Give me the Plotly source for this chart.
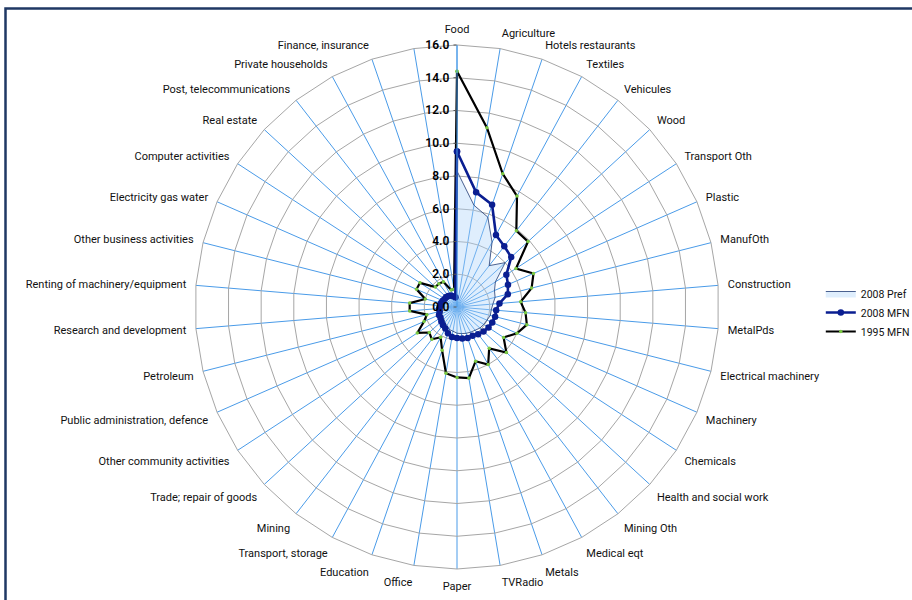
import plotly.graph_objects as go

# Sectors, clockwise from the top (one spoke carries no label)
categories = [
    "Food", "Agriculture", "Hotels restaurants", "Textiles", "Vehicules", "Wood",
    "Transport Oth", "Plastic", "ManufOth", "Construction", "MetalPds",
    "Electrical machinery", "Machinery", "Chemicals", "Health and social work",
    "Mining Oth", "Medical eqt", "Metals", "TVRadio", "Paper", "Office",
    "Education", "Transport, storage", "Mining", "Trade; repair of goods",
    "Other community activities", "Public administration, defence", "Petroleum",
    "Research and development", "Renting of machinery/equipment",
    "Other business activities", "Electricity gas water", "Computer activities",
    "Real estate", "Post, telecommunications", "Private households",
    "Finance, insurance", " ",
]

pref_2008 = [8.3, 6.3, 5.8, 4.5, 3.2, 4.0, 2.8, 2.5, 2.4, 2.2, 2.1, 2.1, 2.0, 1.95,
             1.9, 1.8, 1.75, 1.7, 1.65, 1.6, 1.5, 1.45, 1.3, 1.2, 1.1, 1.1, 1.0,
             0.9, 0.9, 0.85, 0.8, 0.8, 0.75, 0.7, 0.7, 0.6, 0.5, 0.4]

mfn_2008 = [9.5, 7.1, 6.6, 5.0, 4.7, 4.5, 3.6, 3.4, 3.2, 2.6, 2.4, 2.4, 2.35, 2.3,
            2.2, 2.1, 2.0, 2.0, 1.95, 1.9, 1.85, 1.7, 1.5, 1.4, 1.3, 1.2, 1.2,
            1.1, 1.1, 1.0, 1.0, 0.95, 0.9, 0.9, 0.85, 0.8, 0.7, 0.6]

mfn_1995 = [14.4, 11.1, 8.6, 7.7, 5.9, 5.9, 4.3, 5.1, 4.7, 3.9, 4.2, 4.4, 4.0, 3.4,
            4.1, 3.2, 4.0, 3.5, 4.4, 4.3, 4.1, 2.8, 2.1, 2.5, 2.3, 2.9, 2.2, 1.9,
            2.9, 2.9, 2.0, 2.7, 2.7, 1.8, 1.8, 1.75, 1.1, 1.1]

radial_ticks = [0, 2, 4, 6, 8, 10, 12, 14, 16]


def closed(values):
    return list(values) + [values[0]]


theta = closed(categories)

fig = go.Figure()

fig.add_trace(go.Scatterpolar(
    r=closed(pref_2008), theta=theta, name="2008 Pref", mode="lines",
    fill="toself", fillcolor="rgba(170,210,250,0.38)",
    line=dict(color="#1F3A73", width=0.8), legendrank=1,
))

fig.add_trace(go.Scatterpolar(
    r=closed(mfn_1995), theta=theta, name="1995 MFN", mode="lines+markers",
    line=dict(color="#000000", width=2.2),
    marker=dict(color="#7AC943", size=3.5, symbol="circle"), legendrank=3,
))

fig.add_trace(go.Scatterpolar(
    r=closed(mfn_2008), theta=theta, name="2008 MFN", mode="lines+markers",
    line=dict(color="#0A1E91", width=2.6),
    marker=dict(color="#0A1E91", size=6.5, symbol="circle"), legendrank=2,
))

W, H = 912, 600
cx, cy, R = 457, 307, 262

fig.update_layout(
    width=W, height=H,
    margin=dict(l=0, r=0, t=0, b=0, autoexpand=False),
    paper_bgcolor="white",
    font=dict(family="Roboto, Liberation Sans, sans-serif", size=11, color="#111111"),
    polar=dict(
        domain=dict(x=[(cx - R) / W, (cx + R) / W],
                    y=[(H - cy - R) / H, (H - cy + R) / H]),
        bgcolor="white",
        gridshape="linear",
        radialaxis=dict(
            range=[0, 16], tickvals=radial_ticks, tickformat=".1f",
            angle=90, side="counterclockwise", tickangle=90,
            showline=True, linecolor="#4A9BE8", linewidth=1,
            gridcolor="#A6A6A6", gridwidth=1,
            ticks="outside", ticklen=3, tickcolor="#555555",
            tickfont=dict(size=12, color="#000000", weight=600,
                          family="Roboto, Liberation Sans, sans-serif"),
            layer="above traces",
        ),
        angularaxis=dict(
            direction="clockwise", rotation=90,
            showline=True, linecolor="#A6A6A6", linewidth=1,
            gridcolor="#4A9BE8", gridwidth=1,
            ticks="outside", ticklen=7, tickcolor="rgba(0,0,0,0)",
            tickfont=dict(size=11, color="#111111"),
        ),
    ),
    legend=dict(
        x=0.9, y=0.535, xanchor="left", yanchor="top",
        bgcolor="rgba(0,0,0,0)", font=dict(size=10.5),
        itemwidth=30, tracegroupgap=4,
    ),
    shapes=[dict(
        type="rect", xref="paper", yref="paper",
        x0=5.5 / W, x1=1.05, y0=-0.05, y1=1 - 8.5 / H,
        line=dict(color="#1F3864", width=2.5), fillcolor="rgba(0,0,0,0)",
        layer="above",
    )],
)

fig.write_html("out.html")
